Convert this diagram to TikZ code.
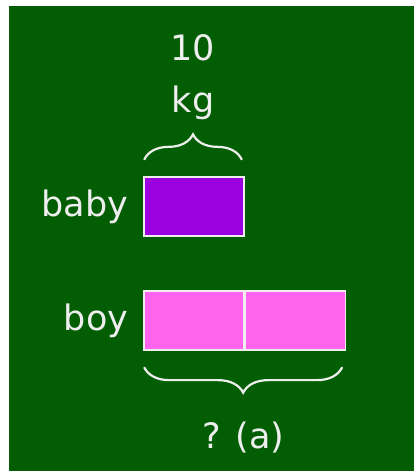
\documentclass[tikz,border=0pt]{standalone}
\usepackage{fontspec}
\setmainfont{DejaVu Sans}
\usetikzlibrary{positioning, decorations.pathreplacing}

\definecolor{boardgreen}{RGB}{3,94,3}
\definecolor{babypurple}{RGB}{155,0,222}
\definecolor{boypink}{RGB}{255,100,238}
\definecolor{chalk}{RGB}{238,238,238}

\tikzset{
    bar/.style={draw=chalk, line width=1.3pt, minimum width=100pt, minimum height=59pt, inner sep=0pt},
    word/.style={text=chalk, font=\fontsize{35}{52}\selectfont, inner sep=0pt},
    curly/.style={draw=chalk, line width=2.2pt, line cap=round, decorate, decoration={brace, amplitude=25pt}}
}

\begin{document}
\begin{tikzpicture}[x=1pt, y=1pt]
        % Board
        \fill[white] (0,0) rectangle (414,471);
        \useasboundingbox (0,0) rectangle (414,471);
        \fill[boardgreen] (9,0) rectangle (414,465);

        % Bars
        \node[bar, fill=babypurple] (babybar) at (194,264.5) {};
        \node[bar, fill=boypink] (boybarA) at (194,150.5) {};
        \node[bar, fill=boypink, right=0pt of boybarA] (boybarB) {};

        % Row labels
        \node[word, anchor=east] (baby) at ([xshift=-15pt]babybar.west) {baby};
        \node[word, anchor=east] (boy) at ([xshift=-15pt]boybarA.west) {boy};

        % Braces
        \draw[curly] ([xshift=1pt,yshift=17pt]babybar.north west) -- ([xshift=-3pt,yshift=17pt]babybar.north east) coordinate[midway] (topmid);
        \draw[curly] ([xshift=-4pt,yshift=-17pt]boybarB.south east) -- ([xshift=1pt,yshift=-17pt]boybarA.south west) coordinate[midway] (botmid);

        % Brace labels
        \node[word, align=center, anchor=south] (mass) at ([yshift=39pt]topmid) {10\\kg};
        \node[word, anchor=north] (question) at ([yshift=-54pt]botmid) {? (a)};
    \end{tikzpicture}
\end{document}
